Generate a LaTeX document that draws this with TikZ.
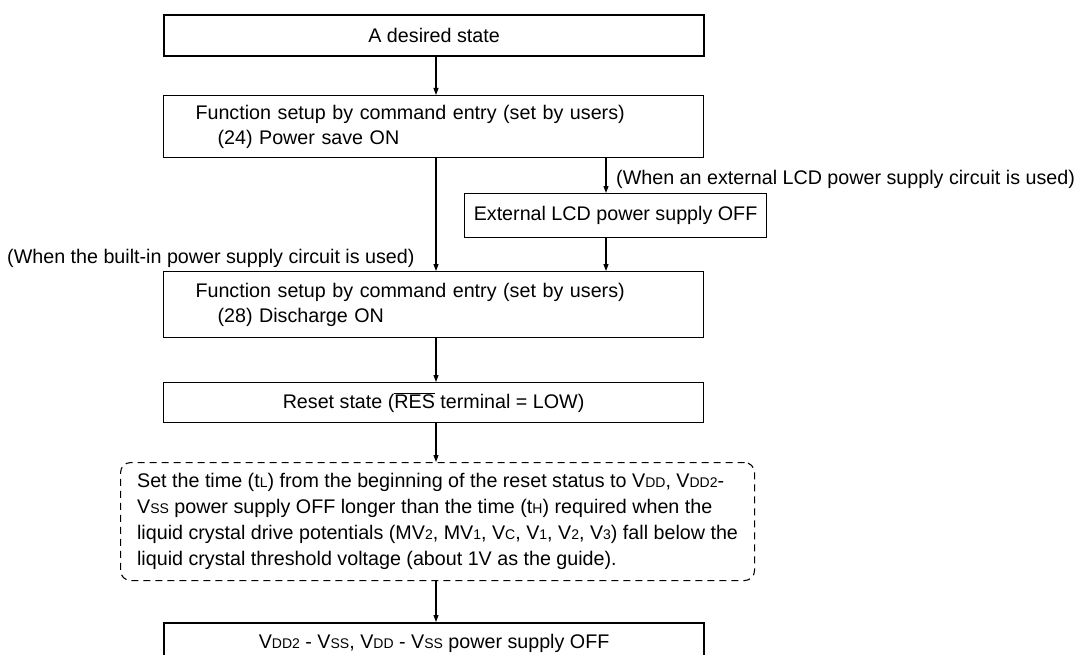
\documentclass[tikz,border=0pt]{standalone}
\usepackage{fontspec}
\setmainfont{Liberation Sans}
\usetikzlibrary{arrows.meta}
\newcommand\sbs[1]{{\fontsize{14}{14}\selectfont #1}}
\begin{document}
\begin{tikzpicture}[x=1pt,y=-1pt,
  every node/.style={font=\fontsize{19.7}{25}\selectfont, inner sep=0pt},
  box/.style={draw, line width=1.1pt, anchor=north west, rectangle},
  thickbox/.style={box, line width=2.2pt},
  dashbox/.style={box, dash pattern=on 7pt off 5pt, rounded corners=10pt},
  arr/.style={line width=1.1pt, -{Triangle[length=7pt,width=5pt]}},
  lbl/.style={anchor=base west}]
\useasboundingbox (0,0) rectangle (1083,655);
\clip (0,0) rectangle (1083,655);
\coordinate (ma) at (436,0);
\coordinate (mb) at (606,0);
\node[thickbox, minimum width=540pt, minimum height=41pt] (b1) at (163,14) {A desired state};
\node[box, minimum width=540pt, minimum height=62pt, align=left, text width=476pt, inner xsep=32pt] (b2) at (163,95)
  {Function setup by command entry (set by users)\\\hspace*{22pt}(24) Power save ON};
\node[box, minimum width=302pt, minimum height=44pt] (ext) at (464,193) {External LCD power supply OFF};
\node[box, minimum width=540pt, minimum height=66pt, align=left, text width=476pt, inner xsep=32pt] (b3) at (163,271)
  {Function setup by command entry (set by users)\\\hspace*{22pt}(28) Discharge ON};
\node[box, minimum width=540pt, minimum height=40pt] (b4) at (163,382) {Reset state ($\overline{\mbox{RES}}$ terminal = LOW)};
\node[dashbox, minimum width=634pt, minimum height=118pt, align=left,
  font=\fontsize{19.7}{26}\selectfont] (b5) at (120,462)
  {Set the time (t\sbs{L}) from the beginning of the reset status to V\sbs{DD}, V\sbs{DD2}-\\
   V\sbs{SS} power supply OFF longer than the time (t\sbs{H}) required when the\\
   liquid crystal drive potentials (MV\sbs{2}, MV\sbs{1}, V\sbs{C}, V\sbs{1}, V\sbs{2}, V\sbs{3}) fall below the\\
   liquid crystal threshold voltage (about 1V as the guide).};
\node[thickbox, minimum width=540pt, minimum height=41pt] (b6) at (163,622)
  {V\sbs{DD2} - V\sbs{SS}, V\sbs{DD} - V\sbs{SS} power supply OFF};
\node[lbl] (l1) at (616,184) {(When an external LCD power supply circuit is used)};
\node[lbl] (l2) at (7,263) {(When the built-in power supply circuit is used)};
\draw[arr] (b1.south -| ma) -- (b2.north -| ma);
\draw[arr] (b2.south -| ma) -- (b3.north -| ma);
\draw[arr] (b2.south -| mb) -- (ext.north -| mb);
\draw[arr] (ext.south -| mb) -- (b3.north -| mb);
\draw[arr] (b3.south -| ma) -- (b4.north -| ma);
\draw[arr] (b4.south -| ma) -- (b5.north -| ma);
\draw[arr] (b5.south -| ma) -- (b6.north -| ma);
\end{tikzpicture}
\end{document}
